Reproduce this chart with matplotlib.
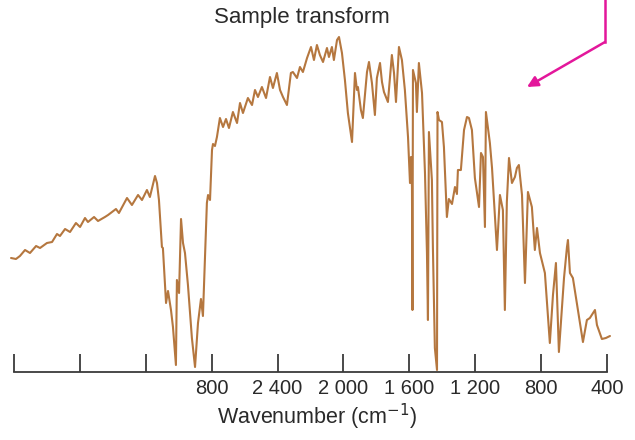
import matplotlib
matplotlib.use("Agg")
import matplotlib.pyplot as plt
from matplotlib.patches import FancyArrowPatch
from matplotlib.lines import Line2D

plt.rcParams['font.family'] = ['Liberation Sans', 'DejaVu Sans']

title = "Sample transform"
xlabel = "Wavenumber (cm$^{-1}$)"

tick_values = [4000, 3600, 3200, 2800, 2400, 2000, 1600, 1200, 800, 400]
tick_labels = ["", "", "", "800", "2 400", "2 000", "1 600", "1 200", "800", "400"]

wavenumber = [4018, 3988, 3964, 3933, 3903, 3866, 3842, 3800, 3769, 3739, 3721, 3690,
              3660, 3624, 3599, 3569, 3551, 3514, 3490, 3448, 3429, 3381, 3363, 3314,
              3284, 3247, 3223, 3193, 3175, 3144, 3132, 3120, 3102, 3096, 3077, 3065,
              3047, 3035, 3017, 3011, 2998, 2986, 2974, 2962, 2944, 2920, 2901, 2883,
              2865, 2853, 2829, 2822, 2810, 2798, 2792, 2780, 2768, 2750, 2731, 2713,
              2695, 2671, 2646, 2628, 2610, 2580, 2555, 2537, 2519, 2495, 2470, 2446,
              2428, 2404, 2385, 2367, 2343, 2319, 2307, 2282, 2264, 2246, 2221, 2197,
              2179, 2161, 2143, 2124, 2100, 2088, 2070, 2058, 2039, 2027, 2009, 1991,
              1973, 1948, 1930, 1918, 1912, 1894, 1882, 1857, 1845, 1827, 1809, 1797,
              1778, 1766, 1754, 1742, 1730, 1706, 1693, 1681, 1663, 1645, 1627, 1608,
              1596, 1590, 1584, 1581, 1578, 1560, 1554, 1542, 1523, 1505, 1493, 1487,
              1481, 1463, 1457, 1445, 1432, 1429, 1420, 1402, 1390, 1372, 1360, 1341,
              1323, 1311, 1305, 1287, 1268, 1250, 1238, 1220, 1202, 1177, 1165, 1153,
              1141, 1135, 1111, 1098, 1068, 1050, 1032, 1020, 1008, 995, 977, 959,
              947, 935, 916, 898, 880, 856, 838, 825, 807, 777, 747, 728,
              710, 692, 661, 643, 637, 625, 607, 546, 522, 504, 485, 473,
              461, 431, 407, 382]

transmittance = [114, 113, 116, 122, 119, 126, 124, 129, 130, 138, 136, 143,
                 140, 149, 145, 154, 150, 155, 151, 155, 157, 163, 159, 174,
                 167, 177, 172, 182, 175, 196, 189, 172, 125, 124, 69, 81,
                 62, 45, 7, 92, 79, 153, 129, 119, 87, 34, 5, 49,
                 73, 56, 169, 177, 172, 222, 228, 226, 235, 254, 245, 253,
                 244, 260, 249, 269, 259, 274, 267, 282, 275, 285, 274, 295,
                 284, 299, 282, 275, 267, 299, 300, 294, 305, 300, 314, 325,
                 312, 327, 317, 310, 324, 315, 325, 312, 332, 335, 319, 292,
                 259, 230, 299, 282, 285, 262, 254, 300, 310, 289, 257, 294,
                 309, 290, 280, 275, 270, 317, 299, 270, 325, 312, 282, 235,
                 189, 215, 185, 62, 302, 289, 260, 309, 279, 199, 119, 52,
                 240, 192, 125, 24, 2, 260, 252, 250, 225, 155, 173, 168,
                 185, 178, 202, 202, 242, 255, 254, 242, 194, 165, 219, 215,
                 145, 260, 229, 204, 122, 177, 162, 62, 170, 214, 189, 195,
                 204, 207, 177, 89, 180, 165, 122, 144, 119, 99, 29, 77,
                 109, 20, 94, 125, 132, 99, 94, 30, 52, 54, 59, 62,
                 47, 33, 34, 36]

line_color = "#b5773f"
axis_color = "#3a3a3a"

fig = plt.figure(figsize=(6.35, 4.4), dpi=100)
ax = fig.add_axes([0, 68 / 440, 1, 372 / 440])
ax.plot(wavenumber, transmittance, color=line_color, lw=1.5,
        solid_joinstyle='round', solid_capstyle='round')

ax.set_xlim(4085, 230)
ax.set_ylim(0, 372)
for s in ['top', 'left', 'right']:
    ax.spines[s].set_visible(False)
ax.spines['bottom'].set_bounds(4000, 400)
ax.spines['bottom'].set_color(axis_color)
ax.spines['bottom'].set_linewidth(1.3)
ax.set_yticks([])
ax.set_xticks(tick_values)
ax.set_xticklabels(tick_labels, fontsize=14.5, color="#2a2a2a")
ax.tick_params(axis='x', direction='in', length=13, width=1.3, color=axis_color, pad=5)
ax.set_xlabel(xlabel, fontsize=15.5, color="#2a2a2a", labelpad=3)

fig.text(302 / 635, 1 - 18 / 440, title, ha='center', va='center', fontsize=16, color="#2a2a2a")

# annotation arrow (magenta)
mag = "#e3179b"
fig.add_artist(Line2D([605 / 635, 605 / 635], [1.0, 1 - 42 / 440], transform=fig.transFigure,
                      color=mag, lw=1.8))
arr = FancyArrowPatch((605 / 635, 1 - 42 / 440), (527 / 635, 1 - 87 / 440),
                      transform=fig.transFigure, arrowstyle='-|>', mutation_scale=16,
                      color=mag, lw=1.8, shrinkA=0, shrinkB=0)
fig.add_artist(arr)

fig.savefig("out.png", dpi=100)
